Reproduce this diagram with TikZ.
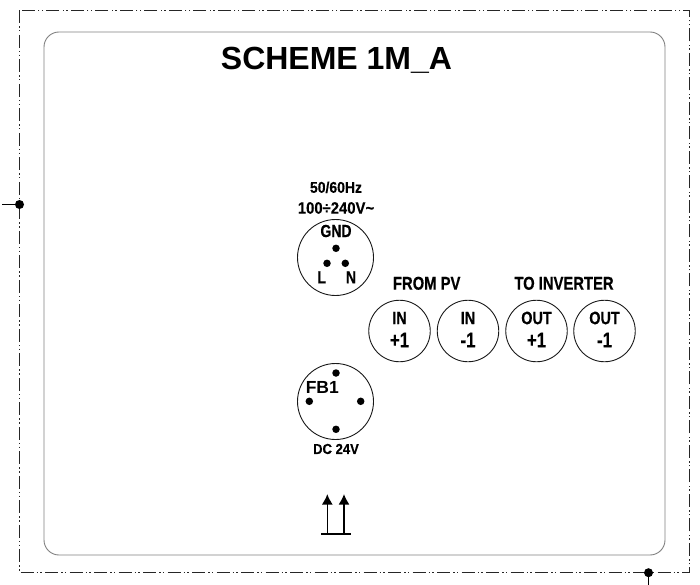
\documentclass[tikz,border=0pt]{standalone}
\usepackage{fontspec}
\usetikzlibrary{arrows.meta}
\setmainfont{Liberation Sans}
\newfontfamily\narrowbold[FakeStretch=0.8,FakeBold=0.4]{Liberation Sans Bold}
\newfontfamily\smallbold[FakeStretch=0.9,FakeBold=0.3]{Liberation Sans Bold}
\tikzset{
    board/.style={draw=black!50, line width=0.9pt, rounded corners=15pt},
    outline/.style={draw=black!85, line width=0.8pt, dash pattern=on 13pt off 3pt on 1.4pt off 2.4pt on 1.4pt off 3.3pt},
    socket/.style={circle, draw=black!90, line width=0.9pt, minimum size=#1, inner sep=0pt},
    contact/.style={circle, fill=black, minimum size=7.5pt, inner sep=0pt},
    pindot/.style={circle, fill=black, minimum size=9pt, inner sep=0pt},
    small/.style={font=\smallbold\fontsize{#1}{16}\selectfont, inner sep=0pt},
    label/.style={font=\narrowbold\fontsize{#1}{18}\selectfont, inner sep=0pt},
}
\begin{document}
\begin{tikzpicture}[x=1pt, y=-1pt]
    \useasboundingbox (0,0) rectangle (700,585);
    \coordinate (frameTL) at (19.5,10.3);
    \coordinate (frameBR) at (689.7,572.7);
    \coordinate (boardTL) at (44,32);
    \coordinate (boardBR) at (665,555);
    \draw[outline] (frameTL) rectangle (frameBR);
    \draw[board] (boardTL) rectangle (boardBR);
    \node[font=\bfseries\fontsize{32}{32}\selectfont, inner sep=0pt] (title) at (336.5,60) {SCHEME 1M\_A};
    % pins on the frame
    \node[pindot] (pinleft) at (19.5,204.5) {};
    \node[pindot] (pinbottom) at (648.5,572.7) {};
    \coordinate (leftend) at (2,204.5);
    \coordinate (bottomend) at (648.5,585);
    \draw[line width=0.9pt] (leftend) -- (pinleft);
    \draw[line width=0.9pt] (pinbottom) -- (bottomend);
    % mains socket
    \node[small=15.5] (freq) at (336,187.3) {50/60Hz};
    \node[small=16.5] (volt) at (336,208) {100÷240V\textasciitilde};
    \node[socket=76pt] (mains) at (335.5,257.5) {};
    \node[label=17.5] (gnd) at (336,231) {GND};
    \node[label=17.5] (l) at (321.7,277.3) {L};
    \node[label=17.5] (n) at (351,277.3) {N};
    \node[contact] (cgnd) at (336,248.3) {};
    \node[contact] (cl) at (327,263.3) {};
    \node[contact] (cn) at (345.3,263.3) {};
    % power sockets
    \node[label=18.5] (frompv) at (426.7,283.3) {FROM PV};
    \node[label=18.5] (toinv) at (564,283.3) {TO INVERTER};
    \foreach \name/\x/\top/\bot in {ina/399.5/IN/+1, inb/468/IN/-1, outa/536.5/OUT/+1, outb/604.5/OUT/-1} {
        \node[socket=61.5pt] (\name) at (\x,331) {};
        \node[label=18] (\name top) at (\x,318) {\top};
        \node[label=21] (\name bot) at (\x,340) {\bot};
    }
    % feedback socket
    \node[socket=76pt] (fb) at (335.5,401.5) {};
    \node[inner sep=0pt, font=\bfseries\fontsize{17.5}{18}\selectfont] (fbname) at (322.3,387.7) {FB1};
    \node[contact] (ctop) at (336,373) {};
    \node[contact] (cleft) at (309.3,401.3) {};
    \node[contact] (cright) at (360.7,401.3) {};
    \node[contact] (cbot) at (336,429.3) {};
    \node[small=14.5] (dc) at (336,449) {DC 24V};
    % this way up
    \coordinate (upa) at (327.3,494);
    \coordinate (upb) at (344,494);
    \coordinate (basea) at (327.3,534);
    \coordinate (baseb) at (344,534);
    \coordinate (baseL) at (321,534);
    \coordinate (baseR) at (351,534);
    \draw[line width=1.6pt, -{Latex[length=10.5pt,width=11pt]}] (basea) -- (upa);
    \draw[line width=1.6pt, -{Latex[length=10.5pt,width=11pt]}] (baseb) -- (upb);
    \draw[line width=1.7pt] (baseL) -- (baseR);
\end{tikzpicture}
\end{document}
